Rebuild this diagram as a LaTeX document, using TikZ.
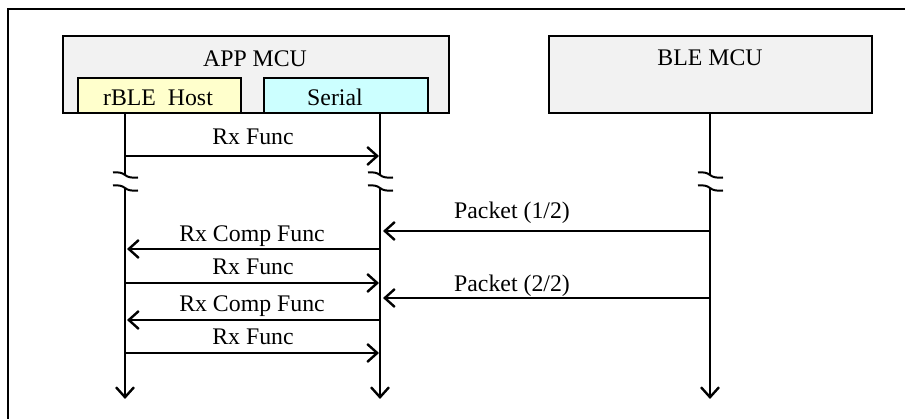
\documentclass[tikz,border=0pt]{standalone}
\usepackage{fontspec}
\setmainfont{Liberation Serif}
\usetikzlibrary{arrows.meta}
\definecolor{boxgray}{HTML}{F2F2F2}
\definecolor{hostyellow}{HTML}{FFFFCC}
\definecolor{serialcyan}{HTML}{CCFFFF}
\begin{document}
\begin{tikzpicture}[x=1pt,y=-1pt,
  font=\fontsize{23.8}{28}\selectfont,
  mcubox/.style={draw=black,line width=2.5pt,inner sep=0pt,outer sep=0pt},
  lbl/.style={inner sep=0pt,anchor=base},
  life/.style={line width=2.7pt},
  msg/.style={line width=2.7pt,-{Straight Barb[length=10pt,width=18pt,line width=2.4pt]}},
  brk/.style={line width=2pt}]
\useasboundingbox (0,0) rectangle (905,419);
% frame (open on right and bottom)
\coordinate (fr1) at (8,419);
\coordinate (fr2) at (8,9);
\coordinate (fr3) at (905,9);
\draw[line width=2.2pt] (fr1) -- (fr2) -- (fr3);
% boxes
\node[mcubox,fill=boxgray,minimum width=386pt,minimum height=77pt] (app) at (256,74.5) {};
\node[mcubox,fill=hostyellow,minimum width=163pt,minimum height=35pt] (host) at (159.5,95.5) {};
\node[mcubox,fill=serialcyan,minimum width=164pt,minimum height=35pt] (serial) at (346,95.5) {};
\node[mcubox,fill=boxgray,minimum width=323pt,minimum height=77pt] (ble) at (710.5,74.5) {};
\node[lbl] (apptxt) at (255,67) {APP MCU};
\node[lbl] (hosttxt) at (158,106) {rBLE\ \ Host};
\node[lbl] (serialtxt) at (335,106) {Serial};
\node[lbl] (bletxt) at (710,66) {BLE MCU};
% lifelines
\foreach \n/\x in {a/125,b/380,c/710}{
  \coordinate (\n top) at (\x,114);
  \coordinate (\n b1) at (\x,175);
  \coordinate (\n b2) at (\x,188);
  \coordinate (\n end) at (\x,399);
  \draw[life] (\n top) -- (\n b1);
  \draw[life,-{Straight Barb[length=10pt,width=18pt,line width=2.4pt]}] (\n b2) -- (\n end);
  \draw[brk] ([xshift=-12pt,yshift=2.5pt]\n b1) .. controls ([xshift=-7pt,yshift=3pt]\n b1) and ([xshift=-3pt,yshift=2.5pt]\n b1) .. (\n b1)
     .. controls ([xshift=3pt,yshift=-2.5pt]\n b1) and ([xshift=7pt,yshift=-3pt]\n b1) .. ([xshift=13pt,yshift=-2.5pt]\n b1);
  \draw[brk] ([xshift=-12pt,yshift=2.5pt]\n b2) .. controls ([xshift=-7pt,yshift=3pt]\n b2) and ([xshift=-3pt,yshift=2.5pt]\n b2) .. (\n b2)
     .. controls ([xshift=3pt,yshift=-2.5pt]\n b2) and ([xshift=7pt,yshift=-3pt]\n b2) .. ([xshift=13pt,yshift=-2.5pt]\n b2);
}
% messages
\coordinate (m1a) at (125,156); \coordinate (m1b) at (379,156);
\draw[msg] (m1a) -- (m1b);
\node[lbl] (m1t) at (253,145) {Rx Func};

\coordinate (p1c) at (710,231); \coordinate (p1b) at (383,231);
\draw[msg] (p1c) -- (p1b);
\node[lbl] (p1t) at (512,219) {Packet (1/2)};

\coordinate (m2b) at (380,249); \coordinate (m2a) at (127,249);
\draw[msg] (m2b) -- (m2a);
\node[lbl] (m2t) at (252,242) {Rx Comp Func};

\coordinate (m3a) at (125,283); \coordinate (m3b) at (379,283);
\draw[msg] (m3a) -- (m3b);
\node[lbl] (m3t) at (253,275) {Rx Func};

\coordinate (p2c) at (710,298); \coordinate (p2b) at (383,298);
\draw[msg] (p2c) -- (p2b);
\node[lbl] (p2t) at (512,292) {Packet (2/2)};

\coordinate (m4b) at (380,320); \coordinate (m4a) at (127,320);
\draw[msg] (m4b) -- (m4a);
\node[lbl] (m4t) at (252,312) {Rx Comp Func};

\coordinate (m5a) at (125,353); \coordinate (m5b) at (379,353);
\draw[msg] (m5a) -- (m5b);
\node[lbl] (m5t) at (253,345) {Rx Func};
\end{tikzpicture}
\end{document}
